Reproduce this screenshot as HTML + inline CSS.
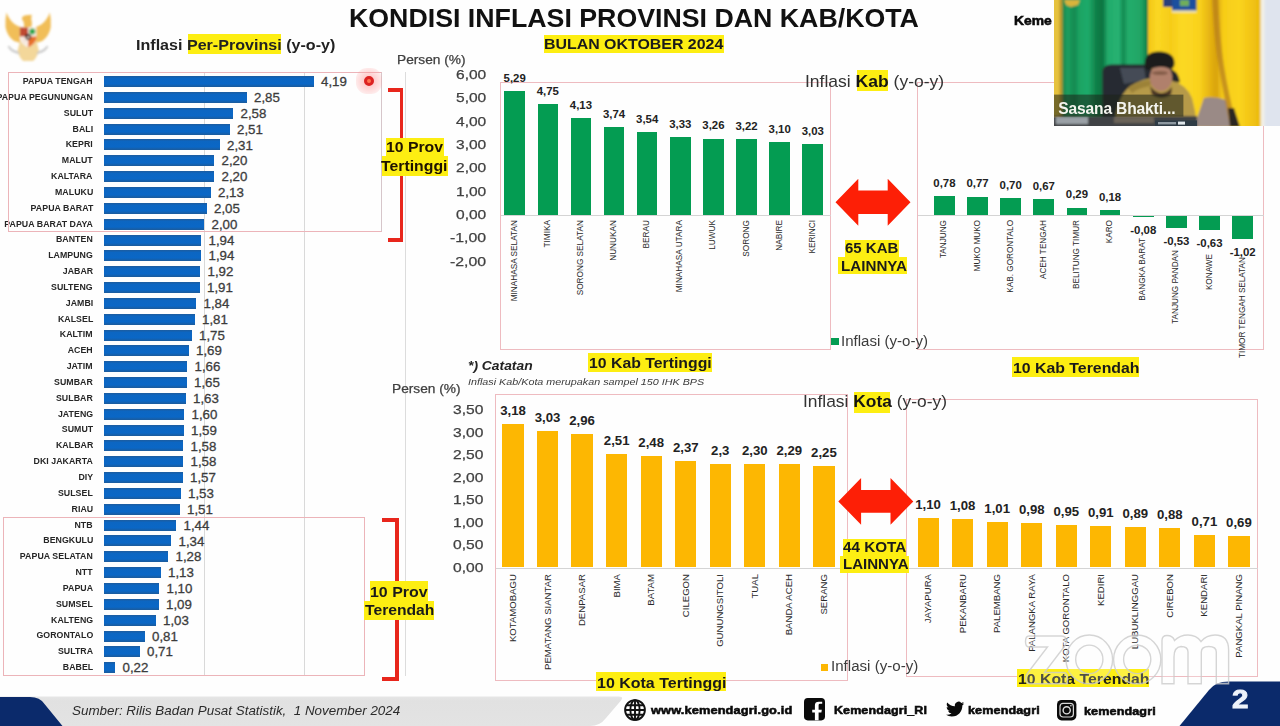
<!DOCTYPE html>
<html><head><meta charset="utf-8"><title>Kondisi Inflasi Provinsi dan Kab/Kota</title>
<style>
html,body{margin:0;padding:0;background:#fff;}
body{width:1280px;height:726px;overflow:hidden;position:relative;font-family:"Liberation Sans",sans-serif;}
#s{position:absolute;left:0;top:0;width:1280px;height:726px;overflow:hidden;background:#fefefe;}
.t{position:absolute;white-space:nowrap;line-height:1em;color:#222;}
.r{position:absolute;}
.b{font-weight:bold;}
.i{font-style:italic;}
.g{color:#454545;}
.rot{position:absolute;white-space:nowrap;line-height:1em;transform-origin:0 0;transform:rotate(-90deg) translate(-100%,-50%);}
.hl{background:#fdee12;}
.pl{position:absolute;white-space:nowrap;line-height:1em;font-weight:bold;font-size:9px;color:#262626;text-align:right;transform-origin:100% 50%;transform:scaleX(0.975);letter-spacing:0.05px;}
.pv{position:absolute;white-space:nowrap;line-height:1em;font-size:13.3px;color:#3c3c3c;-webkit-text-stroke:0.3px #3c3c3c;}
.vl{position:absolute;white-space:nowrap;line-height:1em;font-weight:bold;color:#222;transform:translateX(-50%);}
svg{position:absolute;overflow:visible;}
</style></head><body><div id="s">

<div class="t" style="left:349.13px;top:5.32px;font-size:26.2px;color:#111;transform-origin:0 50%;transform:scaleX(1.0210);"><span style="font-weight:bold;">KONDISI INFLASI PROVINSI DAN KAB/KOTA</span></div>
<div class="r" style="left:544.00px;top:35.00px;width:180.00px;height:17.60px;background:#fdee12;"></div>
<div class="t" style="left:544.18px;top:36.86px;font-size:14.7px;color:#1a1a1a;transform-origin:0 50%;transform:scaleX(1.0837);"><span style="font-weight:bold;">BULAN OKTOBER 2024</span></div>
<div class="r" style="left:187.50px;top:34.00px;width:93.00px;height:20.00px;background:#fdee12;"></div>
<div class="t" style="left:135.87px;top:37.81px;font-size:14.4px;color:#222;transform-origin:0 50%;transform:scaleX(1.1176);"><span style="font-weight:bold;">Inflasi Per-Provinsi (y-o-y)</span></div>
<div class="r" style="left:204.00px;top:72.00px;width:1.00px;height:604.00px;background:#d9d9d9;"></div>
<div class="r" style="left:304.00px;top:72.00px;width:1.00px;height:604.00px;background:#d9d9d9;"></div>
<div class="r" style="left:405.00px;top:72.00px;width:1.00px;height:604.00px;background:#dcdcdc;"></div>
<div class="r" style="left:104.00px;top:76.10px;width:209.50px;height:11.00px;background:linear-gradient(#1d5c9e,#0c66c2 22%,#0a67c6 72%,#1c5b9b);"></div>
<div class="pl" style="right:1187.0px;top:77.00px">PAPUA TENGAH</div>
<div class="pv" style="left:321.00px;top:75.20px">4,19</div>
<div class="r" style="left:104.00px;top:91.94px;width:142.50px;height:11.00px;background:linear-gradient(#1d5c9e,#0c66c2 22%,#0a67c6 72%,#1c5b9b);"></div>
<div class="pl" style="right:1187.0px;top:92.84px">PAPUA PEGUNUNGAN</div>
<div class="pv" style="left:254.00px;top:91.04px">2,85</div>
<div class="r" style="left:104.00px;top:107.78px;width:129.00px;height:11.00px;background:linear-gradient(#1d5c9e,#0c66c2 22%,#0a67c6 72%,#1c5b9b);"></div>
<div class="pl" style="right:1187.0px;top:108.68px">SULUT</div>
<div class="pv" style="left:240.50px;top:106.88px">2,58</div>
<div class="r" style="left:104.00px;top:123.62px;width:125.50px;height:11.00px;background:linear-gradient(#1d5c9e,#0c66c2 22%,#0a67c6 72%,#1c5b9b);"></div>
<div class="pl" style="right:1187.0px;top:124.52px">BALI</div>
<div class="pv" style="left:237.00px;top:122.72px">2,51</div>
<div class="r" style="left:104.00px;top:139.46px;width:115.50px;height:11.00px;background:linear-gradient(#1d5c9e,#0c66c2 22%,#0a67c6 72%,#1c5b9b);"></div>
<div class="pl" style="right:1187.0px;top:140.36px">KEPRI</div>
<div class="pv" style="left:227.00px;top:138.56px">2,31</div>
<div class="r" style="left:104.00px;top:155.30px;width:110.00px;height:11.00px;background:linear-gradient(#1d5c9e,#0c66c2 22%,#0a67c6 72%,#1c5b9b);"></div>
<div class="pl" style="right:1187.0px;top:156.20px">MALUT</div>
<div class="pv" style="left:221.50px;top:154.40px">2,20</div>
<div class="r" style="left:104.00px;top:171.14px;width:110.00px;height:11.00px;background:linear-gradient(#1d5c9e,#0c66c2 22%,#0a67c6 72%,#1c5b9b);"></div>
<div class="pl" style="right:1187.0px;top:172.04px">KALTARA</div>
<div class="pv" style="left:221.50px;top:170.24px">2,20</div>
<div class="r" style="left:104.00px;top:186.98px;width:106.50px;height:11.00px;background:linear-gradient(#1d5c9e,#0c66c2 22%,#0a67c6 72%,#1c5b9b);"></div>
<div class="pl" style="right:1187.0px;top:187.88px">MALUKU</div>
<div class="pv" style="left:218.00px;top:186.08px">2,13</div>
<div class="r" style="left:104.00px;top:202.82px;width:102.50px;height:11.00px;background:linear-gradient(#1d5c9e,#0c66c2 22%,#0a67c6 72%,#1c5b9b);"></div>
<div class="pl" style="right:1187.0px;top:203.72px">PAPUA BARAT</div>
<div class="pv" style="left:214.00px;top:201.92px">2,05</div>
<div class="r" style="left:104.00px;top:218.66px;width:100.00px;height:11.00px;background:linear-gradient(#1d5c9e,#0c66c2 22%,#0a67c6 72%,#1c5b9b);"></div>
<div class="pl" style="right:1187.0px;top:219.56px">PAPUA BARAT DAYA</div>
<div class="pv" style="left:211.50px;top:217.76px">2,00</div>
<div class="r" style="left:104.00px;top:234.50px;width:97.00px;height:11.00px;background:linear-gradient(#1d5c9e,#0c66c2 22%,#0a67c6 72%,#1c5b9b);"></div>
<div class="pl" style="right:1187.0px;top:235.40px">BANTEN</div>
<div class="pv" style="left:208.50px;top:233.60px">1,94</div>
<div class="r" style="left:104.00px;top:250.34px;width:97.00px;height:11.00px;background:linear-gradient(#1d5c9e,#0c66c2 22%,#0a67c6 72%,#1c5b9b);"></div>
<div class="pl" style="right:1187.0px;top:251.24px">LAMPUNG</div>
<div class="pv" style="left:208.50px;top:249.44px">1,94</div>
<div class="r" style="left:104.00px;top:266.18px;width:96.00px;height:11.00px;background:linear-gradient(#1d5c9e,#0c66c2 22%,#0a67c6 72%,#1c5b9b);"></div>
<div class="pl" style="right:1187.0px;top:267.08px">JABAR</div>
<div class="pv" style="left:207.50px;top:265.28px">1,92</div>
<div class="r" style="left:104.00px;top:282.02px;width:95.50px;height:11.00px;background:linear-gradient(#1d5c9e,#0c66c2 22%,#0a67c6 72%,#1c5b9b);"></div>
<div class="pl" style="right:1187.0px;top:282.92px">SULTENG</div>
<div class="pv" style="left:207.00px;top:281.12px">1,91</div>
<div class="r" style="left:104.00px;top:297.86px;width:92.00px;height:11.00px;background:linear-gradient(#1d5c9e,#0c66c2 22%,#0a67c6 72%,#1c5b9b);"></div>
<div class="pl" style="right:1187.0px;top:298.76px">JAMBI</div>
<div class="pv" style="left:203.50px;top:296.96px">1,84</div>
<div class="r" style="left:104.00px;top:313.70px;width:90.50px;height:11.00px;background:linear-gradient(#1d5c9e,#0c66c2 22%,#0a67c6 72%,#1c5b9b);"></div>
<div class="pl" style="right:1187.0px;top:314.60px">KALSEL</div>
<div class="pv" style="left:202.00px;top:312.80px">1,81</div>
<div class="r" style="left:104.00px;top:329.54px;width:87.50px;height:11.00px;background:linear-gradient(#1d5c9e,#0c66c2 22%,#0a67c6 72%,#1c5b9b);"></div>
<div class="pl" style="right:1187.0px;top:330.44px">KALTIM</div>
<div class="pv" style="left:199.00px;top:328.64px">1,75</div>
<div class="r" style="left:104.00px;top:345.38px;width:84.50px;height:11.00px;background:linear-gradient(#1d5c9e,#0c66c2 22%,#0a67c6 72%,#1c5b9b);"></div>
<div class="pl" style="right:1187.0px;top:346.28px">ACEH</div>
<div class="pv" style="left:196.00px;top:344.48px">1,69</div>
<div class="r" style="left:104.00px;top:361.22px;width:83.00px;height:11.00px;background:linear-gradient(#1d5c9e,#0c66c2 22%,#0a67c6 72%,#1c5b9b);"></div>
<div class="pl" style="right:1187.0px;top:362.12px">JATIM</div>
<div class="pv" style="left:194.50px;top:360.32px">1,66</div>
<div class="r" style="left:104.00px;top:377.06px;width:82.50px;height:11.00px;background:linear-gradient(#1d5c9e,#0c66c2 22%,#0a67c6 72%,#1c5b9b);"></div>
<div class="pl" style="right:1187.0px;top:377.96px">SUMBAR</div>
<div class="pv" style="left:194.00px;top:376.16px">1,65</div>
<div class="r" style="left:104.00px;top:392.90px;width:81.50px;height:11.00px;background:linear-gradient(#1d5c9e,#0c66c2 22%,#0a67c6 72%,#1c5b9b);"></div>
<div class="pl" style="right:1187.0px;top:393.80px">SULBAR</div>
<div class="pv" style="left:193.00px;top:392.00px">1,63</div>
<div class="r" style="left:104.00px;top:408.74px;width:80.00px;height:11.00px;background:linear-gradient(#1d5c9e,#0c66c2 22%,#0a67c6 72%,#1c5b9b);"></div>
<div class="pl" style="right:1187.0px;top:409.64px">JATENG</div>
<div class="pv" style="left:191.50px;top:407.84px">1,60</div>
<div class="r" style="left:104.00px;top:424.58px;width:79.50px;height:11.00px;background:linear-gradient(#1d5c9e,#0c66c2 22%,#0a67c6 72%,#1c5b9b);"></div>
<div class="pl" style="right:1187.0px;top:425.48px">SUMUT</div>
<div class="pv" style="left:191.00px;top:423.68px">1,59</div>
<div class="r" style="left:104.00px;top:440.42px;width:79.00px;height:11.00px;background:linear-gradient(#1d5c9e,#0c66c2 22%,#0a67c6 72%,#1c5b9b);"></div>
<div class="pl" style="right:1187.0px;top:441.32px">KALBAR</div>
<div class="pv" style="left:190.50px;top:439.52px">1,58</div>
<div class="r" style="left:104.00px;top:456.26px;width:79.00px;height:11.00px;background:linear-gradient(#1d5c9e,#0c66c2 22%,#0a67c6 72%,#1c5b9b);"></div>
<div class="pl" style="right:1187.0px;top:457.16px">DKI JAKARTA</div>
<div class="pv" style="left:190.50px;top:455.36px">1,58</div>
<div class="r" style="left:104.00px;top:472.10px;width:78.50px;height:11.00px;background:linear-gradient(#1d5c9e,#0c66c2 22%,#0a67c6 72%,#1c5b9b);"></div>
<div class="pl" style="right:1187.0px;top:473.00px">DIY</div>
<div class="pv" style="left:190.00px;top:471.20px">1,57</div>
<div class="r" style="left:104.00px;top:487.94px;width:76.50px;height:11.00px;background:linear-gradient(#1d5c9e,#0c66c2 22%,#0a67c6 72%,#1c5b9b);"></div>
<div class="pl" style="right:1187.0px;top:488.84px">SULSEL</div>
<div class="pv" style="left:188.00px;top:487.04px">1,53</div>
<div class="r" style="left:104.00px;top:503.78px;width:75.50px;height:11.00px;background:linear-gradient(#1d5c9e,#0c66c2 22%,#0a67c6 72%,#1c5b9b);"></div>
<div class="pl" style="right:1187.0px;top:504.68px">RIAU</div>
<div class="pv" style="left:187.00px;top:502.88px">1,51</div>
<div class="r" style="left:104.00px;top:519.62px;width:72.00px;height:11.00px;background:linear-gradient(#1d5c9e,#0c66c2 22%,#0a67c6 72%,#1c5b9b);"></div>
<div class="pl" style="right:1187.0px;top:520.52px">NTB</div>
<div class="pv" style="left:183.50px;top:518.72px">1,44</div>
<div class="r" style="left:104.00px;top:535.46px;width:67.00px;height:11.00px;background:linear-gradient(#1d5c9e,#0c66c2 22%,#0a67c6 72%,#1c5b9b);"></div>
<div class="pl" style="right:1187.0px;top:536.36px">BENGKULU</div>
<div class="pv" style="left:178.50px;top:534.56px">1,34</div>
<div class="r" style="left:104.00px;top:551.30px;width:64.00px;height:11.00px;background:linear-gradient(#1d5c9e,#0c66c2 22%,#0a67c6 72%,#1c5b9b);"></div>
<div class="pl" style="right:1187.0px;top:552.20px">PAPUA SELATAN</div>
<div class="pv" style="left:175.50px;top:550.40px">1,28</div>
<div class="r" style="left:104.00px;top:567.14px;width:56.50px;height:11.00px;background:linear-gradient(#1d5c9e,#0c66c2 22%,#0a67c6 72%,#1c5b9b);"></div>
<div class="pl" style="right:1187.0px;top:568.04px">NTT</div>
<div class="pv" style="left:168.00px;top:566.24px">1,13</div>
<div class="r" style="left:104.00px;top:582.98px;width:55.00px;height:11.00px;background:linear-gradient(#1d5c9e,#0c66c2 22%,#0a67c6 72%,#1c5b9b);"></div>
<div class="pl" style="right:1187.0px;top:583.88px">PAPUA</div>
<div class="pv" style="left:166.50px;top:582.08px">1,10</div>
<div class="r" style="left:104.00px;top:598.82px;width:54.50px;height:11.00px;background:linear-gradient(#1d5c9e,#0c66c2 22%,#0a67c6 72%,#1c5b9b);"></div>
<div class="pl" style="right:1187.0px;top:599.72px">SUMSEL</div>
<div class="pv" style="left:166.00px;top:597.92px">1,09</div>
<div class="r" style="left:104.00px;top:614.66px;width:51.50px;height:11.00px;background:linear-gradient(#1d5c9e,#0c66c2 22%,#0a67c6 72%,#1c5b9b);"></div>
<div class="pl" style="right:1187.0px;top:615.56px">KALTENG</div>
<div class="pv" style="left:163.00px;top:613.76px">1,03</div>
<div class="r" style="left:104.00px;top:630.50px;width:40.50px;height:11.00px;background:linear-gradient(#1d5c9e,#0c66c2 22%,#0a67c6 72%,#1c5b9b);"></div>
<div class="pl" style="right:1187.0px;top:631.40px">GORONTALO</div>
<div class="pv" style="left:152.00px;top:629.60px">0,81</div>
<div class="r" style="left:104.00px;top:646.34px;width:35.50px;height:11.00px;background:linear-gradient(#1d5c9e,#0c66c2 22%,#0a67c6 72%,#1c5b9b);"></div>
<div class="pl" style="right:1187.0px;top:647.24px">SULTRA</div>
<div class="pv" style="left:147.00px;top:645.44px">0,71</div>
<div class="r" style="left:104.00px;top:662.18px;width:11.00px;height:11.00px;background:linear-gradient(#1d5c9e,#0c66c2 22%,#0a67c6 72%,#1c5b9b);"></div>
<div class="pl" style="right:1187.0px;top:663.08px">BABEL</div>
<div class="pv" style="left:122.50px;top:661.28px">0,22</div>
<div class="r" style="left:8.00px;top:72.00px;width:373.50px;height:159.50px;border:1px solid #ecb4b9;box-sizing:border-box;border-right-color:#d6c6ca;"></div>
<div class="r" style="left:3.00px;top:517.00px;width:362.00px;height:159.00px;border:1px solid #ecb4b9;box-sizing:border-box;"></div>
<div class="r" style="left:355.7px;top:68.1px;width:26px;height:26px;border-radius:42%;background:radial-gradient(circle,rgba(255,120,120,.5) 0,rgba(255,150,150,.32) 50%,rgba(255,180,180,0) 100%);"></div>
<div class="r" style="left:363.5px;top:75.9px;width:10.4px;height:10.4px;border-radius:50%;border:3.3px solid #dc2222;box-sizing:border-box;background:#ff7450;filter:blur(0.4px)"></div>
<div class="r" style="left:387.80px;top:88.40px;width:15.70px;height:3.80px;background:#e8261c;"></div>
<div class="r" style="left:387.80px;top:238.10px;width:15.70px;height:3.80px;background:#e8261c;"></div>
<div class="r" style="left:399.70px;top:88.40px;width:3.80px;height:153.50px;background:#e8261c;"></div>
<div class="r" style="left:382.00px;top:517.90px;width:16.80px;height:3.70px;background:#e8261c;"></div>
<div class="r" style="left:382.00px;top:677.30px;width:16.80px;height:3.70px;background:#e8261c;"></div>
<div class="r" style="left:395.10px;top:517.90px;width:3.70px;height:163.10px;background:#e8261c;"></div>
<div class="r" style="left:385.90px;top:138.30px;width:58.20px;height:18.00px;background:#fdee12;"></div>
<div class="r" style="left:381.60px;top:155.80px;width:66.10px;height:19.80px;background:#fdee12;"></div>
<div class="t" style="left:386.49px;top:139.98px;font-size:14.2px;color:#1e1200;transform-origin:0 50%;transform:scaleX(1.1128);"><span style="font-weight:bold;">10 Prov</span></div>
<div class="t" style="left:381.49px;top:158.68px;font-size:14.2px;color:#1e1200;transform-origin:0 50%;transform:scaleX(1.1141);"><span style="font-weight:bold;">Tertinggi</span></div>
<div class="r" style="left:369.50px;top:581.30px;width:58.50px;height:19.50px;background:#fdee12;"></div>
<div class="r" style="left:364.00px;top:600.60px;width:70.20px;height:19.40px;background:#fdee12;"></div>
<div class="t" style="left:369.98px;top:584.65px;font-size:14px;color:#1a1a1a;transform-origin:0 50%;transform:scaleX(1.1389);"><span style="font-weight:bold;">10 Prov</span></div>
<div class="t" style="left:364.50px;top:603.35px;font-size:14px;color:#1a1a1a;transform-origin:0 50%;transform:scaleX(1.1195);"><span style="font-weight:bold;">Terendah</span></div>
<div class="t" style="left:397.34px;top:53.57px;font-size:12.2px;color:#404040;transform-origin:0 50%;transform:scaleX(1.1250);-webkit-text-stroke:0.25px #404040;">Persen (%)</div>
<div class="t" style="left:455.51px;top:68.19px;font-size:13.3px;color:#404040;transform-origin:0 50%;transform:scaleX(1.1692);-webkit-text-stroke:0.25px #404040;">6,00</div>
<div class="t" style="left:455.51px;top:91.49px;font-size:13.3px;color:#404040;transform-origin:0 50%;transform:scaleX(1.1692);-webkit-text-stroke:0.25px #404040;">5,00</div>
<div class="t" style="left:455.51px;top:114.79px;font-size:13.3px;color:#404040;transform-origin:0 50%;transform:scaleX(1.1692);-webkit-text-stroke:0.25px #404040;">4,00</div>
<div class="t" style="left:455.51px;top:138.09px;font-size:13.3px;color:#404040;transform-origin:0 50%;transform:scaleX(1.1692);-webkit-text-stroke:0.25px #404040;">3,00</div>
<div class="t" style="left:455.51px;top:161.39px;font-size:13.3px;color:#404040;transform-origin:0 50%;transform:scaleX(1.1692);-webkit-text-stroke:0.25px #404040;">2,00</div>
<div class="t" style="left:455.51px;top:184.69px;font-size:13.3px;color:#404040;transform-origin:0 50%;transform:scaleX(1.1692);-webkit-text-stroke:0.25px #404040;">1,00</div>
<div class="t" style="left:455.51px;top:207.99px;font-size:13.3px;color:#404040;transform-origin:0 50%;transform:scaleX(1.1692);-webkit-text-stroke:0.25px #404040;">0,00</div>
<div class="t" style="left:449.69px;top:231.29px;font-size:13.3px;color:#404040;transform-origin:0 50%;transform:scaleX(1.1908);-webkit-text-stroke:0.25px #404040;">-1,00</div>
<div class="t" style="left:449.69px;top:254.59px;font-size:13.3px;color:#404040;transform-origin:0 50%;transform:scaleX(1.1908);-webkit-text-stroke:0.25px #404040;">-2,00</div>
<div class="r" style="left:500.40px;top:82.20px;width:330.60px;height:268.10px;border:1px solid #eebbc0;box-sizing:border-box;"></div>
<div class="r" style="left:917.00px;top:82.20px;width:346.60px;height:268.10px;border:1px solid #eebbc0;box-sizing:border-box;"></div>
<div class="r" style="left:501.00px;top:214.60px;width:330.00px;height:1.00px;background:#d4d4d4;"></div>
<div class="r" style="left:917.50px;top:214.60px;width:346.00px;height:1.00px;background:#d4d4d4;"></div>
<div class="r" style="left:504.40px;top:91.24px;width:20.60px;height:123.86px;background:#049c52;"></div>
<div class="vl" style="left:514.70px;top:72.99px;font-size:11.4px">5,29</div>
<div class="rot" style="left:514.70px;top:219.70px;font-size:8.25px;color:#2a2a2a">MINAHASA SELATAN</div>
<div class="r" style="left:537.52px;top:103.83px;width:20.60px;height:111.27px;background:#049c52;"></div>
<div class="vl" style="left:547.82px;top:85.57px;font-size:11.4px">4,75</div>
<div class="rot" style="left:547.82px;top:219.70px;font-size:8.25px;color:#2a2a2a">TIMIKA</div>
<div class="r" style="left:570.64px;top:118.27px;width:20.60px;height:96.83px;background:#049c52;"></div>
<div class="vl" style="left:580.94px;top:100.02px;font-size:11.4px">4,13</div>
<div class="rot" style="left:580.94px;top:219.70px;font-size:8.25px;color:#2a2a2a">SORONG SELATAN</div>
<div class="r" style="left:603.76px;top:127.36px;width:20.60px;height:87.74px;background:#049c52;"></div>
<div class="vl" style="left:614.06px;top:109.11px;font-size:11.4px">3,74</div>
<div class="rot" style="left:614.06px;top:219.70px;font-size:8.25px;color:#2a2a2a">NUNUKAN</div>
<div class="r" style="left:636.88px;top:132.02px;width:20.60px;height:83.08px;background:#049c52;"></div>
<div class="vl" style="left:647.18px;top:113.77px;font-size:11.4px">3,54</div>
<div class="rot" style="left:647.18px;top:219.70px;font-size:8.25px;color:#2a2a2a">BERAU</div>
<div class="r" style="left:670.00px;top:136.91px;width:20.60px;height:78.19px;background:#049c52;"></div>
<div class="vl" style="left:680.30px;top:118.66px;font-size:11.4px">3,33</div>
<div class="rot" style="left:680.30px;top:219.70px;font-size:8.25px;color:#2a2a2a">MINAHASA UTARA</div>
<div class="r" style="left:703.12px;top:138.54px;width:20.60px;height:76.56px;background:#049c52;"></div>
<div class="vl" style="left:713.42px;top:120.29px;font-size:11.4px">3,26</div>
<div class="rot" style="left:713.42px;top:219.70px;font-size:8.25px;color:#2a2a2a">LUWUK</div>
<div class="r" style="left:736.24px;top:139.47px;width:20.60px;height:75.63px;background:#049c52;"></div>
<div class="vl" style="left:746.54px;top:121.22px;font-size:11.4px">3,22</div>
<div class="rot" style="left:746.54px;top:219.70px;font-size:8.25px;color:#2a2a2a">SORONG</div>
<div class="r" style="left:769.36px;top:142.27px;width:20.60px;height:72.83px;background:#049c52;"></div>
<div class="vl" style="left:779.66px;top:124.02px;font-size:11.4px">3,10</div>
<div class="rot" style="left:779.66px;top:219.70px;font-size:8.25px;color:#2a2a2a">NABIRE</div>
<div class="r" style="left:802.48px;top:143.90px;width:20.60px;height:71.20px;background:#049c52;"></div>
<div class="vl" style="left:812.78px;top:125.65px;font-size:11.4px">3,03</div>
<div class="rot" style="left:812.78px;top:219.70px;font-size:8.25px;color:#2a2a2a">KERINCI</div>
<div class="r" style="left:934.00px;top:196.33px;width:20.80px;height:18.77px;background:#049c52;"></div>
<div class="vl" style="left:944.40px;top:178.08px;font-size:11.4px">0,78</div>
<div class="rot" style="left:944.40px;top:219.70px;font-size:8.2px;color:#2a2a2a">TANJUNG</div>
<div class="r" style="left:967.14px;top:196.56px;width:20.80px;height:18.54px;background:#049c52;"></div>
<div class="vl" style="left:977.54px;top:178.31px;font-size:11.4px">0,77</div>
<div class="rot" style="left:977.54px;top:219.70px;font-size:8.2px;color:#2a2a2a">MUKO MUKO</div>
<div class="r" style="left:1000.28px;top:198.19px;width:20.80px;height:16.91px;background:#049c52;"></div>
<div class="vl" style="left:1010.68px;top:179.94px;font-size:11.4px">0,70</div>
<div class="rot" style="left:1010.68px;top:219.70px;font-size:8.2px;color:#2a2a2a">KAB. GORONTALO</div>
<div class="r" style="left:1033.42px;top:198.89px;width:20.80px;height:16.21px;background:#049c52;"></div>
<div class="vl" style="left:1043.82px;top:180.64px;font-size:11.4px">0,67</div>
<div class="rot" style="left:1043.82px;top:219.70px;font-size:8.2px;color:#2a2a2a">ACEH TENGAH</div>
<div class="r" style="left:1066.56px;top:207.74px;width:20.80px;height:7.36px;background:#049c52;"></div>
<div class="vl" style="left:1076.96px;top:189.49px;font-size:11.4px">0,29</div>
<div class="rot" style="left:1076.96px;top:219.70px;font-size:8.2px;color:#2a2a2a">BELITUNG TIMUR</div>
<div class="r" style="left:1099.70px;top:210.31px;width:20.80px;height:4.79px;background:#049c52;"></div>
<div class="vl" style="left:1110.10px;top:192.06px;font-size:11.4px">0,18</div>
<div class="rot" style="left:1110.10px;top:219.70px;font-size:8.2px;color:#2a2a2a">KARO</div>
<div class="r" style="left:1132.84px;top:215.50px;width:20.80px;height:1.86px;background:#049c52;"></div>
<div class="vl" style="left:1143.24px;top:225.31px;font-size:11.4px">-0,08</div>
<div class="rot" style="left:1143.24px;top:237.56px;font-size:8.2px;color:#2a2a2a">BANGKA BARAT</div>
<div class="r" style="left:1165.98px;top:215.50px;width:20.80px;height:12.35px;background:#049c52;"></div>
<div class="vl" style="left:1176.38px;top:235.80px;font-size:11.4px">-0,53</div>
<div class="rot" style="left:1176.38px;top:249.85px;font-size:8.2px;color:#2a2a2a">TANJUNG PANDAN</div>
<div class="r" style="left:1199.12px;top:215.50px;width:20.80px;height:14.68px;background:#049c52;"></div>
<div class="vl" style="left:1209.52px;top:238.13px;font-size:11.4px">-0,63</div>
<div class="rot" style="left:1209.52px;top:254.18px;font-size:8.2px;color:#2a2a2a">KONAWE</div>
<div class="r" style="left:1232.26px;top:215.50px;width:20.80px;height:23.77px;background:#049c52;"></div>
<div class="vl" style="left:1242.66px;top:247.22px;font-size:11.4px">-1,02</div>
<div class="rot" style="left:1242.66px;top:257.07px;font-size:8.2px;color:#2a2a2a">TIMOR TENGAH SELATAN</div>
<div class="r" style="left:857.40px;top:70.30px;width:30.40px;height:20.70px;background:#fdee12;"></div>
<div class="t" style="left:804.77px;top:72.81px;font-size:17px;color:#333;transform-origin:0 50%;transform:scaleX(1.0298);">Inflasi <span style="font-weight:bold;color:#151515;">Kab</span> (y-o-y)</div>
<div class="r" style="left:831.20px;top:337.80px;width:7.40px;height:7.40px;background:#049c52;"></div>
<div class="t" style="left:841.45px;top:334.25px;font-size:14px;color:#3c3c3c;transform-origin:0 50%;transform:scaleX(1.0755);">Inflasi (y-o-y)</div>
<svg style="left:0;top:0" width="1280" height="726"><polygon points="835.5,202.2 858.3,178.7 858.3,190.5 887.7,190.5 887.7,178.7 910.5,202.2 887.7,225.7 887.7,213.9 858.3,213.9 858.3,225.7" fill="#fd1f06"/></svg>
<div class="r" style="left:845.30px;top:239.70px;width:53.50px;height:17.20px;background:#fdee12;"></div>
<div class="r" style="left:837.80px;top:256.60px;width:69.40px;height:17.80px;background:#fdee12;"></div>
<div class="t" style="left:845.25px;top:240.95px;font-size:14px;color:#1a1a1a;transform-origin:0 50%;transform:scaleX(1.0704);"><span style="font-weight:bold;">65 KAB</span></div>
<div class="t" style="left:841.04px;top:258.75px;font-size:14px;color:#1a1a1a;transform-origin:0 50%;transform:scaleX(1.0834);"><span style="font-weight:bold;">LAINNYA</span></div>
<div class="r" style="left:587.60px;top:353.00px;width:124.30px;height:19.40px;background:#fdee12;"></div>
<div class="t" style="left:588.89px;top:356.26px;font-size:14.7px;color:#1a1a1a;transform-origin:0 50%;transform:scaleX(1.0764);"><span style="font-weight:bold;">10 Kab Tertinggi</span></div>
<div class="r" style="left:1011.70px;top:357.10px;width:127.30px;height:19.90px;background:#fdee12;"></div>
<div class="t" style="left:1012.69px;top:360.96px;font-size:14.7px;color:#1a1a1a;transform-origin:0 50%;transform:scaleX(1.0787);"><span style="font-weight:bold;">10 Kab Terendah</span></div>
<div class="t" style="left:468.13px;top:358.96px;font-size:13.4px;color:#222;transform-origin:0 50%;transform:scaleX(1.0338);"><span style="font-weight:bold;font-style:italic;">*) Catatan</span></div>
<div class="t" style="left:467.78px;top:376.60px;font-size:9.8px;color:#3a3a3a;transform-origin:0 50%;transform:scaleX(1.0981);"><span style="font-style:italic;">Inflasi Kab/Kota merupakan sampel 150 IHK BPS</span></div>
<div class="t" style="left:392.04px;top:382.97px;font-size:12.2px;color:#404040;transform-origin:0 50%;transform:scaleX(1.1250);-webkit-text-stroke:0.25px #404040;">Persen (%)</div>
<div class="t" style="left:453.11px;top:403.04px;font-size:13.3px;color:#404040;transform-origin:0 50%;transform:scaleX(1.1733);-webkit-text-stroke:0.25px #404040;">3,50</div>
<div class="t" style="left:453.11px;top:425.59px;font-size:13.3px;color:#404040;transform-origin:0 50%;transform:scaleX(1.1733);-webkit-text-stroke:0.25px #404040;">3,00</div>
<div class="t" style="left:453.11px;top:448.14px;font-size:13.3px;color:#404040;transform-origin:0 50%;transform:scaleX(1.1733);-webkit-text-stroke:0.25px #404040;">2,50</div>
<div class="t" style="left:453.11px;top:470.69px;font-size:13.3px;color:#404040;transform-origin:0 50%;transform:scaleX(1.1733);-webkit-text-stroke:0.25px #404040;">2,00</div>
<div class="t" style="left:453.11px;top:493.24px;font-size:13.3px;color:#404040;transform-origin:0 50%;transform:scaleX(1.1733);-webkit-text-stroke:0.25px #404040;">1,50</div>
<div class="t" style="left:453.11px;top:515.79px;font-size:13.3px;color:#404040;transform-origin:0 50%;transform:scaleX(1.1733);-webkit-text-stroke:0.25px #404040;">1,00</div>
<div class="t" style="left:453.11px;top:538.34px;font-size:13.3px;color:#404040;transform-origin:0 50%;transform:scaleX(1.1733);-webkit-text-stroke:0.25px #404040;">0,50</div>
<div class="t" style="left:453.11px;top:560.89px;font-size:13.3px;color:#404040;transform-origin:0 50%;transform:scaleX(1.1733);-webkit-text-stroke:0.25px #404040;">0,00</div>
<div class="r" style="left:495.40px;top:394.40px;width:352.40px;height:286.20px;border:1px solid #eebbc0;box-sizing:border-box;"></div>
<div class="r" style="left:906.00px;top:399.40px;width:351.80px;height:277.40px;border:1px solid #eebbc0;box-sizing:border-box;"></div>
<div class="r" style="left:496.00px;top:567.60px;width:351.00px;height:1.00px;background:#d4d4d4;"></div>
<div class="r" style="left:906.50px;top:567.60px;width:351.00px;height:1.00px;background:#d4d4d4;"></div>
<div class="r" style="left:502.40px;top:423.98px;width:21.30px;height:143.42px;background:#fdb702;"></div>
<div class="vl" style="left:513.05px;top:404.01px;font-size:13.2px">3,18</div>
<div class="rot" style="left:513.05px;top:573.60px;font-size:9.6px;color:#2a2a2a">KOTAMOBAGU</div>
<div class="r" style="left:536.94px;top:430.75px;width:21.30px;height:136.65px;background:#fdb702;"></div>
<div class="vl" style="left:547.59px;top:410.77px;font-size:13.2px">3,03</div>
<div class="rot" style="left:547.59px;top:573.60px;font-size:9.6px;color:#2a2a2a">PEMATANG SIANTAR</div>
<div class="r" style="left:571.48px;top:433.90px;width:21.30px;height:133.50px;background:#fdb702;"></div>
<div class="vl" style="left:582.13px;top:413.93px;font-size:13.2px">2,96</div>
<div class="rot" style="left:582.13px;top:573.60px;font-size:9.6px;color:#2a2a2a">DENPASAR</div>
<div class="r" style="left:606.02px;top:454.20px;width:21.30px;height:113.20px;background:#fdb702;"></div>
<div class="vl" style="left:616.67px;top:434.23px;font-size:13.2px">2,51</div>
<div class="rot" style="left:616.67px;top:573.60px;font-size:9.6px;color:#2a2a2a">BIMA</div>
<div class="r" style="left:640.56px;top:455.55px;width:21.30px;height:111.85px;background:#fdb702;"></div>
<div class="vl" style="left:651.21px;top:435.58px;font-size:13.2px">2,48</div>
<div class="rot" style="left:651.21px;top:573.60px;font-size:9.6px;color:#2a2a2a">BATAM</div>
<div class="r" style="left:675.10px;top:460.51px;width:21.30px;height:106.89px;background:#fdb702;"></div>
<div class="vl" style="left:685.75px;top:440.54px;font-size:13.2px">2,37</div>
<div class="rot" style="left:685.75px;top:573.60px;font-size:9.6px;color:#2a2a2a">CILEGON</div>
<div class="r" style="left:709.64px;top:463.67px;width:21.30px;height:103.73px;background:#fdb702;"></div>
<div class="vl" style="left:720.29px;top:443.70px;font-size:13.2px">2,3</div>
<div class="rot" style="left:720.29px;top:573.60px;font-size:9.6px;color:#2a2a2a">GUNUNGSITOLI</div>
<div class="r" style="left:744.18px;top:463.67px;width:21.30px;height:103.73px;background:#fdb702;"></div>
<div class="vl" style="left:754.83px;top:443.70px;font-size:13.2px">2,30</div>
<div class="rot" style="left:754.83px;top:573.60px;font-size:9.6px;color:#2a2a2a">TUAL</div>
<div class="r" style="left:778.72px;top:464.12px;width:21.30px;height:103.28px;background:#fdb702;"></div>
<div class="vl" style="left:789.37px;top:444.15px;font-size:13.2px">2,29</div>
<div class="rot" style="left:789.37px;top:573.60px;font-size:9.6px;color:#2a2a2a">BANDA ACEH</div>
<div class="r" style="left:813.26px;top:465.92px;width:21.30px;height:101.48px;background:#fdb702;"></div>
<div class="vl" style="left:823.91px;top:445.95px;font-size:13.2px">2,25</div>
<div class="rot" style="left:823.91px;top:573.60px;font-size:9.6px;color:#2a2a2a">SERANG</div>
<div class="r" style="left:917.50px;top:517.79px;width:21.20px;height:49.61px;background:#fdb702;"></div>
<div class="vl" style="left:928.10px;top:497.82px;font-size:13.2px">1,10</div>
<div class="rot" style="left:928.10px;top:573.60px;font-size:9.6px;color:#2a2a2a">JAYAPURA</div>
<div class="r" style="left:952.04px;top:518.69px;width:21.20px;height:48.71px;background:#fdb702;"></div>
<div class="vl" style="left:962.64px;top:498.72px;font-size:13.2px">1,08</div>
<div class="rot" style="left:962.64px;top:573.60px;font-size:9.6px;color:#2a2a2a">PEKANBARU</div>
<div class="r" style="left:986.58px;top:521.85px;width:21.20px;height:45.55px;background:#fdb702;"></div>
<div class="vl" style="left:997.18px;top:501.88px;font-size:13.2px">1,01</div>
<div class="rot" style="left:997.18px;top:573.60px;font-size:9.6px;color:#2a2a2a">PALEMBANG</div>
<div class="r" style="left:1021.12px;top:523.20px;width:21.20px;height:44.20px;background:#fdb702;"></div>
<div class="vl" style="left:1031.72px;top:503.23px;font-size:13.2px">0,98</div>
<div class="rot" style="left:1031.72px;top:573.60px;font-size:9.6px;color:#2a2a2a">PALANGKA RAYA</div>
<div class="r" style="left:1055.66px;top:524.55px;width:21.20px;height:42.84px;background:#fdb702;"></div>
<div class="vl" style="left:1066.26px;top:504.58px;font-size:13.2px">0,95</div>
<div class="rot" style="left:1066.26px;top:573.60px;font-size:9.6px;color:#2a2a2a">KOTA GORONTALO</div>
<div class="r" style="left:1090.20px;top:526.36px;width:21.20px;height:41.04px;background:#fdb702;"></div>
<div class="vl" style="left:1100.80px;top:506.39px;font-size:13.2px">0,91</div>
<div class="rot" style="left:1100.80px;top:573.60px;font-size:9.6px;color:#2a2a2a">KEDIRI</div>
<div class="r" style="left:1124.74px;top:527.26px;width:21.20px;height:40.14px;background:#fdb702;"></div>
<div class="vl" style="left:1135.34px;top:507.29px;font-size:13.2px">0,89</div>
<div class="rot" style="left:1135.34px;top:573.60px;font-size:9.6px;color:#2a2a2a">LUBUKLINGGAU</div>
<div class="r" style="left:1159.28px;top:527.71px;width:21.20px;height:39.69px;background:#fdb702;"></div>
<div class="vl" style="left:1169.88px;top:507.74px;font-size:13.2px">0,88</div>
<div class="rot" style="left:1169.88px;top:573.60px;font-size:9.6px;color:#2a2a2a">CIREBON</div>
<div class="r" style="left:1193.82px;top:535.38px;width:21.20px;height:32.02px;background:#fdb702;"></div>
<div class="vl" style="left:1204.42px;top:515.41px;font-size:13.2px">0,71</div>
<div class="rot" style="left:1204.42px;top:573.60px;font-size:9.6px;color:#2a2a2a">KENDARI</div>
<div class="r" style="left:1228.36px;top:536.28px;width:21.20px;height:31.12px;background:#fdb702;"></div>
<div class="vl" style="left:1238.96px;top:516.31px;font-size:13.2px">0,69</div>
<div class="rot" style="left:1238.96px;top:573.60px;font-size:9.6px;color:#2a2a2a">PANGKAL PINANG</div>
<div class="r" style="left:854.00px;top:392.20px;width:36.30px;height:20.60px;background:#fdee12;"></div>
<div class="t" style="left:802.78px;top:393.88px;font-size:16.8px;color:#333;transform-origin:0 50%;transform:scaleX(1.0360);">Inflasi <span style="font-weight:bold;color:#151515;">Kota</span> (y-o-y)</div>
<div class="r" style="left:821.30px;top:663.80px;width:7.00px;height:7.00px;background:#fdb702;"></div>
<div class="t" style="left:830.94px;top:659.15px;font-size:14px;color:#3c3c3c;transform-origin:0 50%;transform:scaleX(1.0793);">Inflasi (y-o-y)</div>
<svg style="left:0;top:0" width="1280" height="726"><polygon points="838.3,501.4 861.1,478.1 861.1,490.0 890.5,490.0 890.5,478.1 913.3,501.4 890.5,524.7 890.5,512.8 861.1,512.8 861.1,524.7" fill="#fd1f06"/></svg>
<div class="r" style="left:842.90px;top:538.70px;width:63.40px;height:17.20px;background:#fdee12;"></div>
<div class="r" style="left:839.70px;top:555.60px;width:69.30px;height:17.80px;background:#fdee12;"></div>
<div class="t" style="left:842.93px;top:539.65px;font-size:14px;color:#1a1a1a;transform-origin:0 50%;transform:scaleX(1.0868);"><span style="font-weight:bold;">44 KOTA</span></div>
<div class="t" style="left:843.35px;top:557.45px;font-size:14px;color:#1a1a1a;transform-origin:0 50%;transform:scaleX(1.0750);"><span style="font-weight:bold;">LAINNYA</span></div>
<div class="r" style="left:596.20px;top:672.00px;width:129.80px;height:19.30px;background:#fdee12;"></div>
<div class="t" style="left:596.63px;top:674.80px;font-size:15px;color:#1a1a1a;transform-origin:0 50%;transform:scaleX(1.0660);"><span style="font-weight:bold;">10 Kota Tertinggi</span></div>
<div class="r" style="left:1017.00px;top:668.70px;width:132.20px;height:18.60px;background:#fdee12;"></div>
<div class="t" style="left:1017.59px;top:671.20px;font-size:15px;color:#222218;transform-origin:0 50%;transform:scaleX(1.0540);"><span style="font-weight:bold;">10 Kota Terendah</span></div>
<svg style="left:0;top:0" width="1280" height="726">
<defs><linearGradient id="gb" x1="0" y1="0" x2="0" y2="1"><stop offset="0" stop-color="#e6e6e6"/><stop offset="0.15" stop-color="#e1e1e1"/><stop offset="1" stop-color="#e3e3e3"/></linearGradient></defs>
<path d="M0,696.5 L619,696.5 Q624,696.5 621,700.5 L606,718 Q600,726 590,726 L0,726 Z" fill="url(#gb)"/>
<path d="M0,697 L30,697 Q40,697 44.5,704 L62.5,726 L0,726 Z" fill="#0b2a6b"/>
<path d="M1280,681.6 L1228,681.6 Q1216,681.6 1209,690 L1179.5,726 L1280,726 Z" fill="#0b2a6b"/>
</svg>
<div class="t i" style="left:71.8px;top:703.7px;font-size:13px;color:#2b2b2b;transform-origin:0 50%;transform:scaleX(1.03)">Sumber: Rilis Badan Pusat Statistik,&nbsp; 1 November 2024</div>
<svg style="left:624.4px;top:699.4px" width="22" height="22" viewBox="0 0 22 22">
<g fill="none" stroke="#111" stroke-width="1.9"><circle cx="11" cy="11" r="9.9"/><ellipse cx="11" cy="11" rx="4.6" ry="9.9"/><path d="M11,1.1V20.9M1.1,11H20.9M2.6,6.2H19.4M2.6,15.8H19.4"/></g></svg>
<svg style="left:804.2px;top:698.2px" width="21" height="22.4" viewBox="0 0 21 22.4">
<rect x="0" y="0" width="21" height="22.4" rx="3.8" fill="#0a0a0a"/>
<path d="M18.2,4 L16,4 Q14.6,4 14.6,5.6 L14.6,10.6 L17.8,10.6 L17.4,13.6 L14.6,13.6 L14.6,22.4 L10.9,22.4 L10.9,13.6 L8.2,13.6 L8.2,10.6 L10.9,10.6 L10.9,5.4 Q10.9,1.6 14.8,1.6 L18.2,1.6 Z" fill="#fff" transform="translate(0,2.2) scale(1,0.9)"/>
</svg>
<svg style="left:946px;top:700.2px" width="18.2" height="18.2" viewBox="0 0 24 24"><path fill="#0a0a0a" d="M23.953 4.57a10 10 0 01-2.825.775 4.958 4.958 0 002.163-2.723c-.951.555-2.005.959-3.127 1.184a4.92 4.92 0 00-8.384 4.482C7.69 8.095 4.067 6.13 1.64 3.162a4.822 4.822 0 00-.666 2.475c0 1.71.87 3.213 2.188 4.096a4.904 4.904 0 01-2.228-.616v.06a4.923 4.923 0 003.946 4.827 4.996 4.996 0 01-2.212.085 4.936 4.936 0 004.604 3.417 9.867 9.867 0 01-6.102 2.105c-.39 0-.779-.023-1.17-.067a13.995 13.995 0 007.557 2.209c9.053 0 13.998-7.496 13.998-13.985 0-.21 0-.42-.015-.63A9.935 9.935 0 0024 4.59z"/></svg>
<svg style="left:1057.1px;top:700.4px" width="19.4" height="20.4" viewBox="0 0 19.4 20.4">
<rect x="0" y="0" width="19.4" height="20.4" rx="4.6" fill="#0a0a0a"/>
<rect x="3" y="3.4" width="13.4" height="13.6" rx="3" fill="none" stroke="#d8d8d8" stroke-width="1.2"/>
<circle cx="9.7" cy="10.3" r="3.6" fill="none" stroke="#dcdcdc" stroke-width="1.4"/>
<circle cx="13.9" cy="5.8" r="0.8" fill="#ddd"/>
</svg>
<div class="t b" style="left:651.4px;top:704.92px;font-size:11.2px;color:#0a0a0a;-webkit-text-stroke:0.55px #0a0a0a;transform-origin:0 50%;transform:scaleX(1.145);letter-spacing:0.1px">www.kemendagri.go.id</div>
<div class="t b" style="left:834.2px;top:704.92px;font-size:11.2px;color:#0a0a0a;-webkit-text-stroke:0.55px #0a0a0a;transform-origin:0 50%;transform:scaleX(1.115);letter-spacing:0.1px">Kemendagri_RI</div>
<div class="t b" style="left:968.2px;top:705.02px;font-size:11.2px;color:#0a0a0a;-webkit-text-stroke:0.55px #0a0a0a;transform-origin:0 50%;transform:scaleX(1.125);letter-spacing:0.1px">kemendagri</div>
<div class="t b" style="left:1083.6px;top:705.52px;font-size:11.2px;color:#0a0a0a;-webkit-text-stroke:0.55px #0a0a0a;transform-origin:0 50%;transform:scaleX(1.125);letter-spacing:0.1px">kemendagri</div>
<div class="t b" style="left:1232px;top:686.4px;font-size:26.4px;color:#eef3fb;-webkit-text-stroke:0.9px #eef3fb;transform-origin:0 50%;transform:scaleX(1.12)">2</div>
<div class="t b" style="left:1013.8px;top:15.2px;font-size:12.4px;color:#0a0a0a;-webkit-text-stroke:0.55px #0a0a0a;transform-origin:0 50%;transform:scaleX(1.12)">Keme</div>
<div class="r" style="left:1054px;top:0;width:226px;height:126.4px;overflow:hidden;background:#f7cf1a;">
<svg style="left:0;top:0" width="226" height="127" viewBox="0 0 226 127">
<defs>
<filter id="bl" x="-5%" y="-5%" width="110%" height="110%"><feGaussianBlur stdDeviation="1.1"/></filter>
<filter id="bl2" x="-5%" y="-5%" width="110%" height="110%"><feGaussianBlur stdDeviation="0.7"/></filter>
<linearGradient id="gr" x1="0" y1="0" x2="1" y2="0">
<stop offset="0" stop-color="#15824a"/><stop offset="0.06" stop-color="#1f9f60"/><stop offset="0.14" stop-color="#118a50"/><stop offset="0.2" stop-color="#1ca463"/><stop offset="0.30" stop-color="#20aa6a"/>
<stop offset="0.40" stop-color="#0f7e47"/><stop offset="0.47" stop-color="#0d7541"/><stop offset="0.53" stop-color="#22ab6b"/><stop offset="0.66" stop-color="#27b272"/><stop offset="0.71" stop-color="#128a50"/>
<stop offset="0.77" stop-color="#24ad6c"/><stop offset="0.92" stop-color="#1fa464"/><stop offset="1" stop-color="#0f7a45"/></linearGradient>
<linearGradient id="yl" x1="0" y1="0" x2="1" y2="0">
<stop offset="0" stop-color="#f2c516"/><stop offset="0.08" stop-color="#fbd722"/><stop offset="0.2" stop-color="#f6cc18"/><stop offset="0.3" stop-color="#fcd925"/><stop offset="0.45" stop-color="#f9d21c"/>
<stop offset="0.56" stop-color="#e2ae10"/><stop offset="0.6" stop-color="#d9a30f"/><stop offset="0.66" stop-color="#f7cd18"/><stop offset="0.8" stop-color="#fad41f"/><stop offset="0.9" stop-color="#f3c514"/><stop offset="1" stop-color="#e8b70f"/></linearGradient>
</defs>
<g filter="url(#bl)">
<rect x="-3" y="-3" width="12" height="133" fill="#e6c23c"/><rect x="5.5" y="-3" width="3" height="133" fill="#b9962a"/>
<rect x="8.5" y="-3" width="85.5" height="133" fill="url(#gr)"/>
<rect x="94" y="-3" width="114" height="133" fill="url(#yl)"/>
<rect x="208" y="-3" width="22" height="133" fill="#dfe4ee"/>
<rect x="206.5" y="-3" width="4" height="133" fill="#f3f0e6"/>
<path d="M10,0 L26,0 L24,5 L17,7 L12,5 Z" fill="#d9b43a"/>
<rect x="118" y="-3" width="24.5" height="13.8" fill="#1f4f9e"/>
<rect x="118" y="10.4" width="24.5" height="2.2" fill="#e9e3c0"/>
<rect x="126" y="0" width="9" height="6" fill="#6fae5a"/>
<rect x="109" y="-2" width="9" height="9" fill="#2a3f7a"/>
<!-- right lower grey object -->
<path d="M150,98 Q160,96 172,100 L180,127 L140,127 Z" fill="#9a8a86"/>
<path d="M158,-3 Q160,40 164,62 Q168,85 176,127 L183,127 Q174,92 170,66 Q166,40 164,-3 Z" fill="#b8801e" opacity="0.75"/>
<path d="M174,108 L180,108 L186,127 L176,127 Z" fill="#2a2522"/>
<!-- chair -->
<path d="M48.5,127 L48.5,72 Q48.5,64.5 58,64.5 L92,64.5 Q98,64.5 98,72 L98,127 Z" fill="#262b30"/>
<path d="M66,68 L90,68 L92,80 L70,84 Z" fill="#525b66" opacity="0.7"/>
<path d="M114,68 Q124,70 126,82 L114,84 Z" fill="#23272b"/>
<!-- uniform -->
<path d="M60,127 Q62,98 76,86 Q90,78 100,78 L116,80 Q132,84 138,98 Q142,112 143,127 Z" fill="#b69a4a"/>
<path d="M74,88 Q86,80 98,80 L96,86 Q84,88 78,93 Z" fill="#9c8238"/>
<!-- face -->
<ellipse cx="107" cy="77.5" rx="11.2" ry="13.6" fill="#b0806c"/>
<path d="M96,86 Q107,100 118,87 L117,95 Q107,101 98,95 Z" fill="#4a3426"/>
<ellipse cx="106" cy="73" rx="8" ry="2" fill="#7a5440" opacity="0.8"/>
<!-- hair -->
<path d="M91,66 Q89,52 105,51.5 Q121,52 120.5,64 Q120,69 116,69 Q106,64 95,70 Q91,70 91,66 Z" fill="#1f1c1c"/>
<!-- bottom strip -->
<rect x="-2" y="116" width="145" height="13" fill="#3f4244"/>
<rect x="2" y="117" width="32" height="7" fill="#9aa0a6"/>
<rect x="60" y="117" width="40" height="6" fill="#6a6458"/>
</g>
<rect x="0" y="94.6" width="129.4" height="22" fill="#1c2218" opacity="0.55"/>
<rect x="101" y="120.4" width="42" height="6" fill="#2f3b45" filter="url(#bl2)"/>
<rect x="104" y="122" width="18" height="2.4" fill="#8d98a0" filter="url(#bl2)"/>
<rect x="124" y="121.6" width="7" height="3" fill="#dfe6ea" filter="url(#bl2)"/>
</svg>
<div class="t b" style="left:4.2px;top:101.3px;font-size:15.6px;color:#f4f4ee;letter-spacing:-0.15px;filter:blur(0.35px)">Sasana Bhakti...</div>
</div>
<svg style="left:0;top:5px" width="60" height="60" viewBox="0 0 60 60">
<defs><filter id="lb" x="-10%" y="-10%" width="120%" height="120%"><feGaussianBlur stdDeviation="0.95"/></filter></defs>
<g filter="url(#lb)">
<path d="M6.5,7.5 Q5,14 5.5,22 Q7,31 14,36 L20.5,38 L20.5,22 Q14,20 10.5,15 Q7.5,11 6.5,7.5 Z" fill="#f1be58"/>
<path d="M49.8,7.5 Q51.3,14 50.8,22 Q49.3,31 42.3,36 L35.8,38 L35.8,22 Q42.3,20 45.8,15 Q48.8,11 49.8,7.5 Z" fill="#f1be58"/>
<path d="M22,14.5 Q21.5,10.5 26,10.2 L31.8,9.8 L31.2,13.5 Q32.4,17 31.4,22.5 L24,22.5 Q24.5,16.5 22,14.5 Z" fill="#f0bc55"/>
<path d="M20,36 L36.5,36 L39,46 Q36,54 33,56 L23,56 Q19,52 17.5,46 Z" fill="#f3d79a"/>
<path d="M7.5,41 Q10,47 17,48.5 L20,50 L18,46.5 Q12,45 9.5,41 Z" fill="#c9c9c9"/>
<path d="M48.5,41 Q46,47 39,48.5 L36,50 L38,46.5 Q44,45 46.5,41 Z" fill="#c9c9c9"/>
<path d="M19.8,22.5 L36.4,22.5 L36.4,34 Q34,40 28.1,42.3 Q22,40 19.8,34 Z" fill="#f8efe6"/>
<path d="M19.8,22.5 L28.1,22.5 L28.1,31.5 L19.8,31.5 Z" fill="#c04a32"/>
<path d="M28.1,31.5 L36.4,31.5 L36.4,34 Q34,40 28.1,42.3 Z" fill="#e7702c"/>
<circle cx="32.3" cy="26.6" r="3" fill="#2fa84e"/>
<circle cx="28" cy="31.8" r="3.1" fill="#3a1e1c"/>
<circle cx="28.3" cy="32.3" r="1.2" fill="#e9d6c8"/>
<path d="M21.5,33 L26,33 L26,39 Q22.5,37 21.5,33Z" fill="#f4e3da"/>
</g></svg>
<svg style="left:0;top:0" width="1280" height="726">
<defs><filter id="zb"><feGaussianBlur stdDeviation="0.7"/></filter></defs>
<g fill="#ffffff" fill-opacity="0.2" stroke="#cbcbcb" stroke-opacity="0.8" stroke-width="1.4" filter="url(#zb)">
<path d="M1029,636 L1061,636 Q1066.5,636 1066.5,641 Q1066.5,644 1064,647 L1044.5,672.5 L1063,672.5 Q1067.5,672.5 1067.5,677.5 L1067.5,683.8 L1031,683.8 Q1025.5,683.8 1025.5,678.5 Q1025.5,675.5 1028,672.5 L1047.5,647 L1029,647 Q1025.5,647 1025.5,641.5 Q1025.5,636 1029,636 Z"/>
<path fill-rule="evenodd" d="M1066.0,659.4 a23.3,24.4 0 1,0 46.6,0 a23.3,24.4 0 1,0 -46.6,0 Z M1075.7,659.4 a13.6,14.2 0 1,1 27.2,0 a13.6,14.2 0 1,1 -27.2,0 Z"/><path fill-rule="evenodd" d="M1113.6,659.4 a23.6,24.4 0 1,0 47.2,0 a23.6,24.4 0 1,0 -47.2,0 Z M1123.6,659.4 a13.6,14.2 0 1,1 27.2,0 a13.6,14.2 0 1,1 -27.2,0 Z"/>
<path d="M1162,683.8 L1162,640.5 Q1162,635.5 1167,635.5 Q1173,635.5 1174.5,640.5 Q1180,635 1188,635 Q1196.5,635 1201,641.5 Q1206.5,635 1215,635 Q1228.6,635 1228.6,650 L1228.6,683.8 L1216.3,683.8 L1216.3,652 Q1216.3,646.5 1208.8,646.5 Q1201.3,646.5 1201.3,652 L1201.3,683.8 L1188,683.8 L1188,652 Q1188,646.5 1181,646.5 Q1174,647 1174,657 L1174,683.8 Z"/>
</g></svg>
</div></body></html>
